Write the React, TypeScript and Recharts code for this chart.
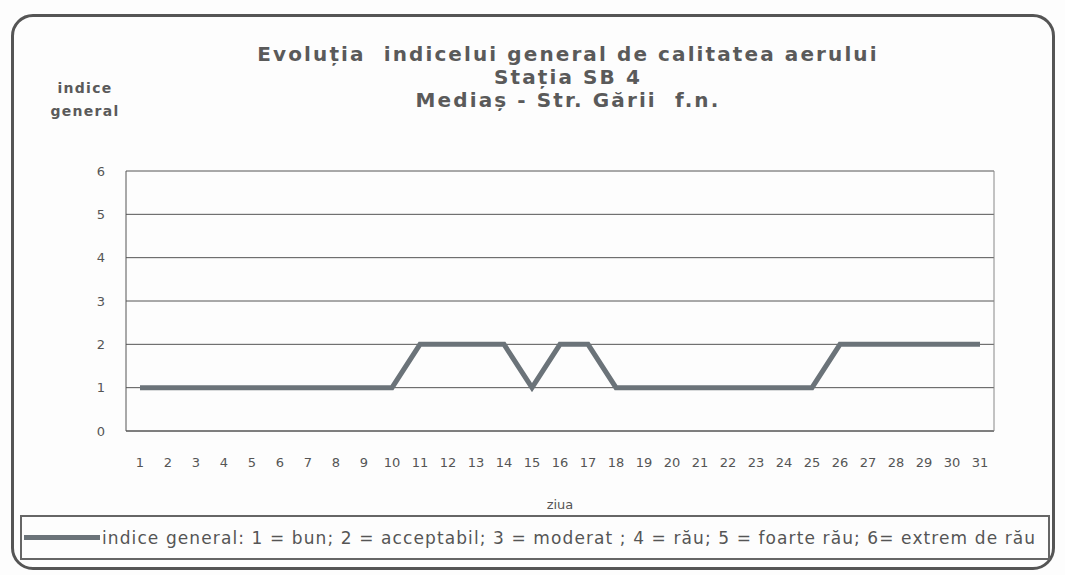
import { LineChart, Line, XAxis, YAxis, CartesianGrid } from 'recharts'

const days = [
  '1', '2', '3', '4', '5', '6', '7', '8', '9', '10', '11', '12', '13', '14', '15', '16',
  '17', '18', '19', '20', '21', '22', '23', '24', '25', '26', '27', '28', '29', '30', '31',
]
const indiceValues = [1, 1, 1, 1, 1, 1, 1, 1, 1, 1, 2, 2, 2, 2, 1, 2, 2, 1, 1, 1, 1, 1, 1, 1, 1, 2, 2, 2, 2, 2, 2]
const yTicks = [0, 1, 2, 3, 4, 5, 6]
const titleLines = ['Evoluția  indicelui general de calitatea aerului', 'Stația SB 4', 'Mediaș - Str. Gării  f.n.']
const legendText = 'indice general: 1 = bun; 2 = acceptabil; 3 = moderat ; 4 = rău; 5 = foarte rău; 6= extrem de rău'

const data = days.map((d, i) => ({ ziua: d, indice: indiceValues[i] }))

const font = '"DejaVu Sans", Verdana, sans-serif'
const lineColor = '#6b7379'

export default function App() {
  return (
    <div style={{ position: 'absolute', left: 0, top: 0, width: 1065, height: 575, background: '#fdfdfd', fontFamily: font }}>
      <div
        style={{
          position: 'absolute',
          left: 11,
          top: 14,
          width: 1044,
          height: 556,
          border: '3px solid #555',
          borderRadius: 22,
          boxSizing: 'border-box',
        }}
      />
      <div style={{ position: 'absolute', left: 0, width: 1136, top: 43, textAlign: 'center', color: '#5a5a5a', fontSize: 20, fontWeight: 'bold', lineHeight: '23px', letterSpacing: 2.1 }}>
        {titleLines.map((t) => (
          <div key={t} style={{ whiteSpace: 'pre' }}>{t}</div>
        ))}
      </div>
      <div style={{ position: 'absolute', left: 40, width: 90, top: 77, textAlign: 'center', color: '#5a5a5a', fontSize: 14, fontWeight: 'bold', lineHeight: '23px', letterSpacing: 1.3 }}>
        <div>indice</div>
        <div>general</div>
      </div>
      <LineChart width={1065} height={575} data={data} margin={{ top: 171, right: 70, bottom: 60, left: 0 }}>
        <CartesianGrid vertical={false} stroke="#555" strokeWidth={1} />
        <XAxis
          dataKey="ziua"
          interval={0}
          padding={{ left: 14, right: 14 }}
          tickLine={false}
          axisLine={{ stroke: '#555' }}
          tick={{ fill: '#555', fontSize: 13, fontFamily: font }}
          tickMargin={21}
          height={84}
          label={{ value: 'ziua', position: 'insideBottom', offset: 6, fill: '#555', fontSize: 13, fontFamily: font }}
        />
        <YAxis
          domain={[0, 6]}
          ticks={yTicks}
          width={126}
          tickLine={false}
          axisLine={{ stroke: '#555' }}
          tick={{ fill: '#555', fontSize: 13, fontFamily: font }}
          tickMargin={15}
        />
        <YAxis yAxisId="right" orientation="right" width={1} tick={false} tickLine={false} axisLine={{ stroke: '#888' }} />
        <Line type="linear" dataKey="indice" stroke={lineColor} strokeWidth={5} dot={false} isAnimationActive={false} />
      </LineChart>
      <div
        style={{
          position: 'absolute',
          left: 20,
          top: 515,
          width: 1030,
          height: 45,
          border: '2px solid #666',
          boxSizing: 'border-box',
          display: 'flex',
          alignItems: 'center',
          color: '#555',
          fontSize: 17,
        }}
      >
        <span style={{ display: 'inline-block', width: 76, height: 5, background: lineColor, marginLeft: 2, marginRight: 2 }} />
        <span style={{ whiteSpace: 'pre', letterSpacing: 1.1 }}>{legendText}</span>
      </div>
    </div>
  )
}
